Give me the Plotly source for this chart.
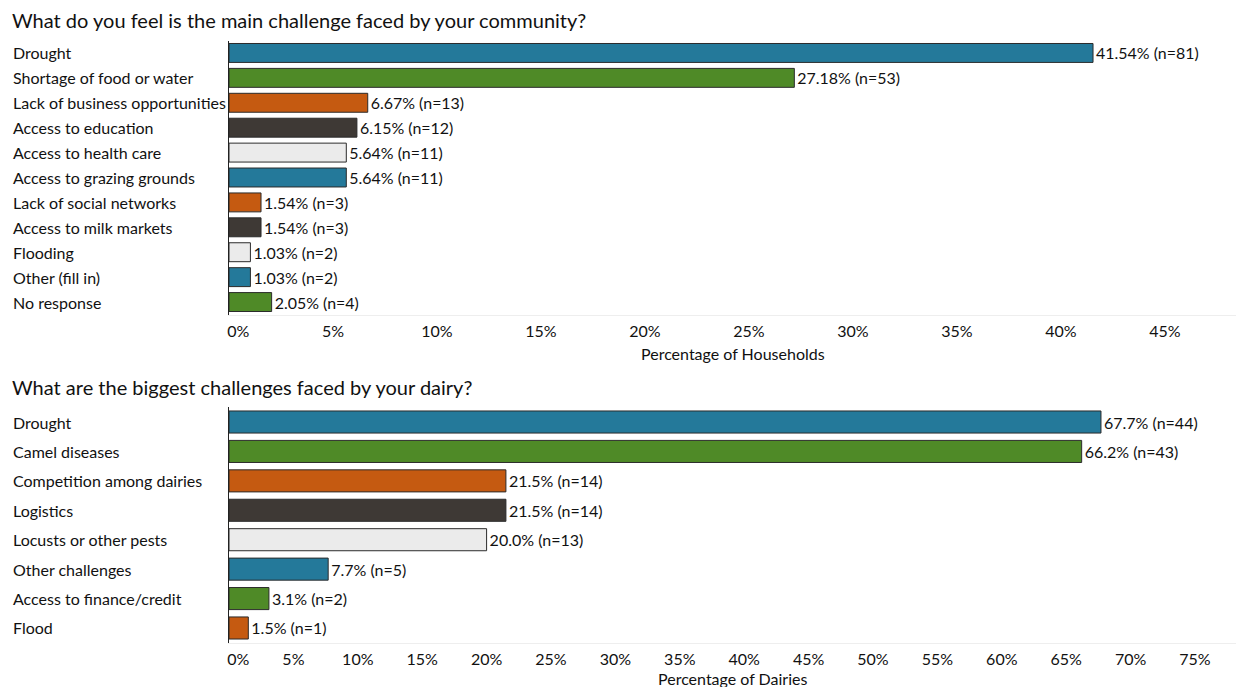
import plotly.graph_objects as go

# Community survey: main challenge faced by the community
community_labels = [
    "Drought", "Shortage of food or water", "Lack of business opportunities",
    "Access to education", "Access to health care", "Access to grazing grounds",
    "Lack of social networks", "Access to milk markets", "Flooding",
    "Other (fill in)", "No response",
]
community_pct = [41.54, 27.18, 6.67, 6.15, 5.64, 5.64, 1.54, 1.54, 1.03, 1.03, 2.05]
community_n = [81, 53, 13, 12, 11, 11, 3, 3, 2, 2, 4]
community_colors = [
    "#24799A", "#4F8A27", "#C55A11", "#3E3935", "#EBEBEB", "#24799A",
    "#C55A11", "#3E3935", "#EBEBEB", "#24799A", "#4F8A27",
]

# Dairy survey: biggest challenges faced by the dairy
dairy_labels = [
    "Drought", "Camel diseases", "Competition among dairies", "Logistics",
    "Locusts or other pests", "Other challenges", "Access to finance/credit", "Flood",
]
dairy_pct = [67.7, 66.2, 21.5, 21.5, 20.0, 7.7, 3.1, 1.5]
dairy_n = [44, 43, 14, 14, 13, 5, 2, 1]
dairy_colors = [
    "#24799A", "#4F8A27", "#C55A11", "#3E3935", "#EBEBEB", "#24799A", "#4F8A27", "#C55A11",
]

community_ticks = list(range(0, 50, 5))
dairy_ticks = list(range(0, 80, 5))

FONT = "Lato"
W, H = 1236, 687
LEFT = 229
PLOT_W = W - LEFT


def px_y(y):
    return 1 - y / H


def px_x(x):
    return (x - LEFT) / PLOT_W


def tick_text(t):
    # the zero label sits just right of the axis line
    return "\u2007\u20070%" if t == 0 else f"{t}%"


fig = go.Figure()

fig.add_trace(go.Bar(
    x=community_pct, y=community_labels, orientation="h",
    marker=dict(color=community_colors, line=dict(color="#2b2b2b", width=1)),
    text=[f"{p:.2f}% (n={n})" for p, n in zip(community_pct, community_n)],
    textposition="outside", cliponaxis=False,
    textfont=dict(family=FONT, size=16, color="#111111"),
    width=0.76, xaxis="x", yaxis="y", showlegend=False,
))

fig.add_trace(go.Bar(
    x=dairy_pct, y=dairy_labels, orientation="h",
    marker=dict(color=dairy_colors, line=dict(color="#2b2b2b", width=1)),
    text=[f"{p:.1f}% (n={n})" for p, n in zip(dairy_pct, dairy_n)],
    textposition="outside", cliponaxis=False,
    textfont=dict(family=FONT, size=16, color="#111111"),
    width=0.75, xaxis="x2", yaxis="y2", showlegend=False,
))

axis_common = dict(
    showgrid=False, zeroline=False, ticks="", showline=True,
    linecolor="#EEEEEE", linewidth=1,
    tickfont=dict(family=FONT, size=16, color="#111111"),
    ticklabelstandoff=2,
)

fig.update_layout(
    width=W, height=H,
    margin=dict(l=LEFT, r=0, t=0, b=0),
    paper_bgcolor="white", plot_bgcolor="white",
    font=dict(family=FONT, color="#111111"),
    xaxis=dict(
        domain=[0, 1], anchor="y", range=[0, PLOT_W / 20.8],
        tickvals=community_ticks, ticktext=[tick_text(t) for t in community_ticks],
        **axis_common,
    ),
    yaxis=dict(
        domain=[px_y(314.5), px_y(40.5)], anchor="x",
        categoryorder="array", categoryarray=community_labels,
        autorange="reversed", showticklabels=False, showgrid=False,
        showline=True, linecolor="#222222", linewidth=1, ticks="",
    ),
    xaxis2=dict(
        domain=[0, 1], anchor="y2", range=[0, PLOT_W / 12.88],
        tickvals=dairy_ticks, ticktext=[tick_text(t) for t in dairy_ticks],
        **axis_common,
    ),
    yaxis2=dict(
        domain=[px_y(642.7), px_y(407.3)], anchor="x2",
        categoryorder="array", categoryarray=dairy_labels,
        autorange="reversed", showticklabels=False, showgrid=False,
        showline=True, linecolor="#222222", linewidth=1, ticks="",
    ),
)

annotations = []
# Category labels, left aligned at the page edge
for lab in community_labels:
    annotations.append(dict(
        x=px_x(11), xref="paper", xanchor="left", y=lab, yref="y",
        text=lab, showarrow=False, font=dict(family=FONT, size=16, color="#111111"),
    ))
for lab in dairy_labels:
    annotations.append(dict(
        x=px_x(11), xref="paper", xanchor="left", y=lab, yref="y2",
        text=lab, showarrow=False, font=dict(family=FONT, size=16, color="#111111"),
    ))

# Section titles
annotations.append(dict(
    x=px_x(10), xref="paper", xanchor="left", y=px_y(20), yref="paper", yanchor="middle",
    text="What do you feel is the main challenge faced by your community?",
    showarrow=False, font=dict(family=FONT, size=20, color="#111111"),
))
annotations.append(dict(
    x=px_x(10), xref="paper", xanchor="left", y=px_y(387), yref="paper", yanchor="middle",
    text="What are the biggest challenges faced by your dairy?",
    showarrow=False, font=dict(family=FONT, size=20, color="#111111"),
))

# Axis titles
annotations.append(dict(
    x=0.5, xref="paper", xanchor="center", y=px_y(353), yref="paper", yanchor="middle",
    text="Percentage of Households", showarrow=False,
    font=dict(family=FONT, size=16, color="#111111"),
))
annotations.append(dict(
    x=0.5, xref="paper", xanchor="center", y=px_y(678), yref="paper", yanchor="middle",
    text="Percentage of Dairies", showarrow=False,
    font=dict(family=FONT, size=16, color="#111111"),
))

fig.update_layout(annotations=annotations)

fig.write_html("out.html")
